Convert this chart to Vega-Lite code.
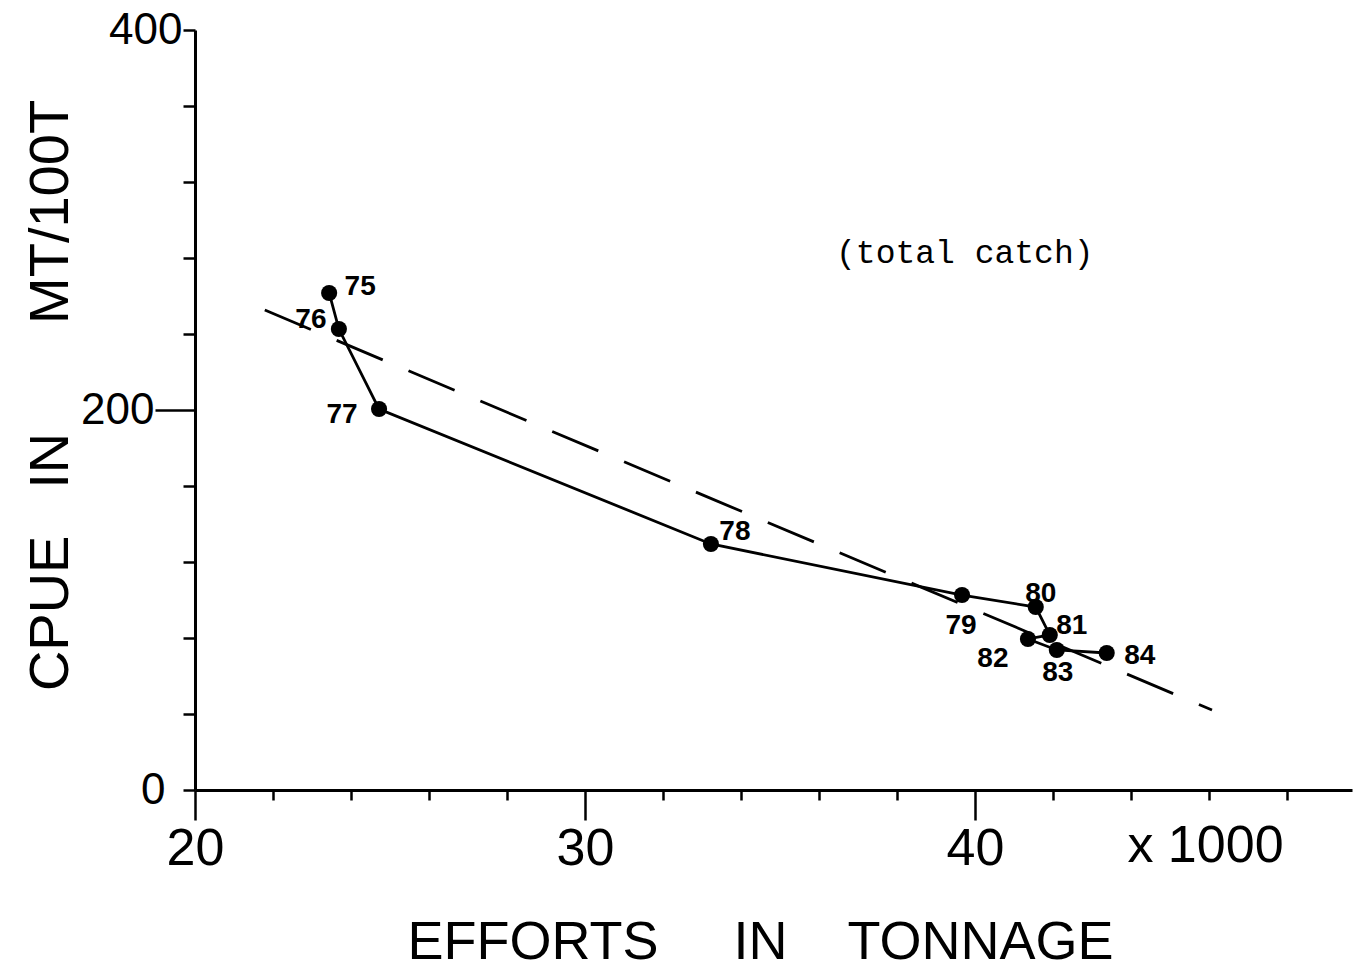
{
  "$schema": "https://vega.github.io/schema/vega-lite/v6.json",
  "width": 1157,
  "height": 760,
  "autosize": {"type": "none"},
  "padding": {"left": 195, "top": 30, "right": 5, "bottom": 183},
  "background": "white",
  "config": {
    "view": {"stroke": null},
    "axis": {"grid": false, "domainColor": "black", "tickColor": "black", "labelColor": "black", "titleColor": "black", "domainWidth": 3, "tickWidth": 2.5, "labelOverlap": false, "labelFlush": false, "labelLimit": 0, "titleLimit": 0, "titleFontWeight": "normal"}
  },
  "datasets": {
    "points": [
      {"year": 75, "effort": 23.44, "cpue": 261.6},
      {"year": 76, "effort": 23.69, "cpue": 242.6},
      {"year": 77, "effort": 24.72, "cpue": 200.5},
      {"year": 78, "effort": 33.23, "cpue": 129.5},
      {"year": 79, "effort": 39.67, "cpue": 102.6},
      {"year": 80, "effort": 41.56, "cpue": 96.3},
      {"year": 81, "effort": 41.92, "cpue": 81.6},
      {"year": 82, "effort": 41.36, "cpue": 79.5},
      {"year": 83, "effort": 42.1, "cpue": 73.7},
      {"year": 84, "effort": 43.38, "cpue": 72.1}
    ],
    "reg": [
      {"effort": 21.79, "cpue": 252.6},
      {"effort": 46.08, "cpue": 42.1}
    ],
    "note": [
      {"effort": 39.74, "cpue": 282.6, "text": "(total catch)"}
    ]
  },
  "encoding": {
    "x": {
      "field": "effort", "type": "quantitative",
      "scale": {"domain": [20, 49.67], "nice": false, "zero": false},
      "axis": {
        "values": [20, 22, 24, 26, 28, 30, 32, 34, 36, 38, 40, 42, 44, 46, 48, 45.9],
        "tickSize": {"condition": {"test": "datum.value % 10 == 0", "value": 30}, "value": 10},
        "tickOpacity": {"condition": {"test": "datum.value == 45.9", "value": 0}, "value": 1},
        "labelExpr": "datum.value == 45.9 ? 'x\u00a01000' : (datum.value % 10 == 0 ? datum.label : '')",
        "labelFont": "Liberation Sans",
        "labelFontSize": 52,
        "labelBaseline": "top",
        "labelPadding": {"condition": {"test": "datum.value == 45.9", "value": 20}, "value": 3},
        "title": "EFFORTS\u00a0\u00a0\u00a0\u00a0\u00a0IN\u00a0\u00a0\u00a0\u00a0TONNAGE",
        "titleFont": "Liberation Sans",
        "titleFontSize": 54,
        "titleX": 565,
        "titleY": 152,
        "titleAlign": "center",
        "titleBaseline": "middle"
      }
    },
    "y": {
      "field": "cpue", "type": "quantitative",
      "scale": {"domain": [0, 400], "nice": false},
      "axis": {
        "values": [0, 40, 80, 120, 160, 200, 240, 280, 320, 360, 400],
        "tickSize": {"condition": {"test": "datum.value == 200", "value": 40}, "value": 12},
        "labelPadding": {"condition": {"test": "datum.value == 0", "value": 18}, "value": 1},
        "labelExpr": "datum.value % 200 == 0 ? datum.label : ''",
        "labelFont": "Liberation Sans",
        "labelFontSize": 44,
        "labelBaseline": "middle",
        "title": "CPUE\u00a0\u00a0\u00a0IN\u00a0\u00a0\u00a0\u00a0\u00a0\u00a0\u00a0MT/100T",
        "titleFont": "Liberation Sans",
        "titleFontSize": 56,
        "titleAngle": -90,
        "titleX": -145,
        "titleY": 365,
        "titleAlign": "center",
        "titleBaseline": "middle"
      }
    }
  },
  "layer": [
    {
      "data": {"name": "points"},
      "mark": {"type": "line", "color": "black", "strokeWidth": 2.8},
      "encoding": {"order": {"field": "year", "type": "quantitative"}}
    },
    {
      "data": {"name": "reg"},
      "mark": {"type": "line", "color": "black", "strokeWidth": 2.8, "strokeDash": [50, 28]},
      "encoding": {}
    },
    {
      "data": {"name": "points"},
      "mark": {"type": "circle", "color": "black", "size": 260, "opacity": 1}
    },
    {"data": {"name": "points"}, "transform": [{"filter": "datum.year == 75"}], "mark": {"type": "text", "dx": 31, "dy": -6, "fontSize": 28, "fontWeight": "bold", "font": "Liberation Sans"}, "encoding": {"text": {"field": "year", "type": "quantitative", "format": "d"}}},
    {"data": {"name": "points"}, "transform": [{"filter": "datum.year == 76"}], "mark": {"type": "text", "dx": -28, "dy": -9, "fontSize": 28, "fontWeight": "bold", "font": "Liberation Sans"}, "encoding": {"text": {"field": "year", "type": "quantitative", "format": "d"}}},
    {"data": {"name": "points"}, "transform": [{"filter": "datum.year == 77"}], "mark": {"type": "text", "dx": -37, "dy": 6, "fontSize": 28, "fontWeight": "bold", "font": "Liberation Sans"}, "encoding": {"text": {"field": "year", "type": "quantitative", "format": "d"}}},
    {"data": {"name": "points"}, "transform": [{"filter": "datum.year == 78"}], "mark": {"type": "text", "dx": 24, "dy": -12, "fontSize": 28, "fontWeight": "bold", "font": "Liberation Sans"}, "encoding": {"text": {"field": "year", "type": "quantitative", "format": "d"}}},
    {"data": {"name": "points"}, "transform": [{"filter": "datum.year == 79"}], "mark": {"type": "text", "dx": -1, "dy": 31, "fontSize": 28, "fontWeight": "bold", "font": "Liberation Sans"}, "encoding": {"text": {"field": "year", "type": "quantitative", "format": "d"}}},
    {"data": {"name": "points"}, "transform": [{"filter": "datum.year == 80"}], "mark": {"type": "text", "dx": 5, "dy": -13, "fontSize": 28, "fontWeight": "bold", "font": "Liberation Sans"}, "encoding": {"text": {"field": "year", "type": "quantitative", "format": "d"}}},
    {"data": {"name": "points"}, "transform": [{"filter": "datum.year == 81"}], "mark": {"type": "text", "dx": 22, "dy": -9, "fontSize": 28, "fontWeight": "bold", "font": "Liberation Sans"}, "encoding": {"text": {"field": "year", "type": "quantitative", "format": "d"}}},
    {"data": {"name": "points"}, "transform": [{"filter": "datum.year == 82"}], "mark": {"type": "text", "dx": -35, "dy": 20, "fontSize": 28, "fontWeight": "bold", "font": "Liberation Sans"}, "encoding": {"text": {"field": "year", "type": "quantitative", "format": "d"}}},
    {"data": {"name": "points"}, "transform": [{"filter": "datum.year == 83"}], "mark": {"type": "text", "dx": 1, "dy": 23, "fontSize": 28, "fontWeight": "bold", "font": "Liberation Sans"}, "encoding": {"text": {"field": "year", "type": "quantitative", "format": "d"}}},
    {"data": {"name": "points"}, "transform": [{"filter": "datum.year == 84"}], "mark": {"type": "text", "dx": 33, "dy": 3, "fontSize": 28, "fontWeight": "bold", "font": "Liberation Sans"}, "encoding": {"text": {"field": "year", "type": "quantitative", "format": "d"}}},
    {
      "data": {"name": "note"},
      "mark": {"type": "text", "fontSize": 33, "font": "Liberation Mono", "color": "black"},
      "encoding": {"text": {"field": "text"}}
    }
  ]
}
